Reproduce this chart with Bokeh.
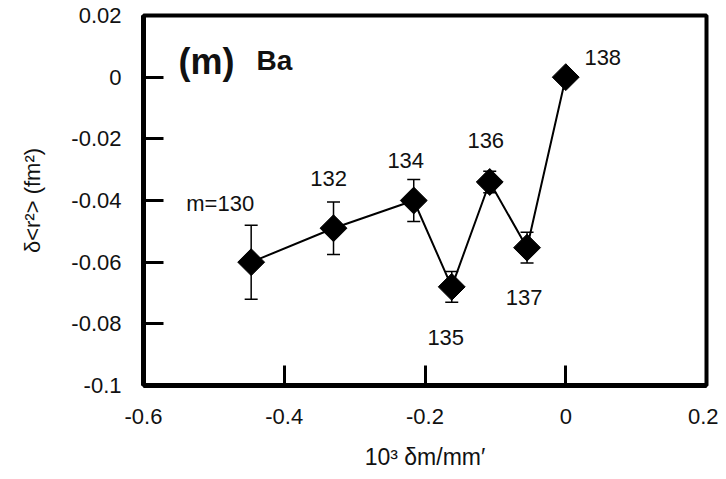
import math
from bokeh.plotting import figure
from bokeh.models import (ColumnDataSource, Whisker, TeeHead, FixedTicker,
                          CustomJSTickFormatter, Label)
from bokeh.core.properties import value
from bokeh.embed import file_html
from bokeh.resources import INLINE

# ---- data ----
mass_numbers = ["m=130", "132", "134", "135", "136", "137", "138"]
x_vals = [-0.447, -0.330, -0.216, -0.162, -0.108, -0.055, 0.0]
y_vals = [-0.0600, -0.0490, -0.0400, -0.0680, -0.0340, -0.0553, 0.0]
y_err = [0.0120, 0.0085, 0.0068, 0.0050, 0.0035, 0.0050, 0.0]
x_ticks = [-0.6, -0.4, -0.2, 0.0, 0.2]
y_ticks = [0.02, 0.0, -0.02, -0.04, -0.06, -0.08, -0.1]

# label offsets in screen pixels (style, not data)
label_dx = [-31, -5, -8, -6, -4, -3, 37]
label_dy = [-59, -50, -40, 51, -42, 50, -20]

FONT = "Liberation Sans"

src = ColumnDataSource(dict(
    x=x_vals, y=y_vals,
    lo=[y - e for y, e in zip(y_vals, y_err)],
    hi=[y + e for y, e in zip(y_vals, y_err)],
    lab=mass_numbers, dx=label_dx, dy=label_dy,
))

p = figure(width=718, height=479, output_backend="svg", toolbar_location=None,
           x_range=(-0.6, 0.2), y_range=(-0.1, 0.02),
           min_border_left=143, min_border_right=12,
           min_border_top=15, min_border_bottom=94)
p.background_fill_color = "white"
p.border_fill_color = "white"
p.grid.visible = False
p.outline_line_color = "black"
p.outline_line_width = 4

fmt = CustomJSTickFormatter(code="""
var s = tick.toFixed(2);
if (s.indexOf('.') >= 0) { s = s.replace(/0+$/, '').replace(/\\.$/, ''); }
if (s == '-0') { s = '0'; }
return s;
""")

for ax, ticks in ((p.xaxis[0], x_ticks), (p.yaxis[0], y_ticks)):
    ax.ticker = FixedTicker(ticks=ticks, num_minor_ticks=4)
    ax.formatter = fmt
    ax.axis_line_width = 5
    ax.axis_line_color = "black"
    ax.major_tick_in = 20
    ax.major_tick_out = 0
    ax.minor_tick_in = 12
    ax.minor_tick_out = 0
    ax.major_tick_line_width = 3
    ax.minor_tick_line_width = 2.5
    ax.major_label_text_font = FONT
    ax.major_label_text_font_size = "22px"
    ax.major_label_text_color = "#111111"
    ax.axis_label_text_font = FONT
    ax.axis_label_text_font_style = "normal"
    ax.axis_label_text_color = "#111111"

p.xaxis.major_label_standoff = 23
p.yaxis.major_label_standoff = 22
p.xaxis.axis_label = "10³ δm/mm′"
p.yaxis.axis_label = "δ<r²> (fm²)"
p.xaxis.axis_label_text_font_size = "23px"
p.yaxis.axis_label_text_font_size = "22px"
p.xaxis.axis_label_standoff = 17
p.yaxis.axis_label_standoff = 23

# error bars
p.add_layout(Whisker(source=src, base="x", lower="lo", upper="hi",
                     line_color="black", line_width=1.5,
                     upper_head=TeeHead(size=13, line_width=1.5, line_color="black"),
                     lower_head=TeeHead(size=13, line_width=1.5, line_color="black")))

# connecting line and diamonds
p.line("x", "y", source=src, line_color="black", line_width=2)
p.scatter("x", "y", source=src, marker="square", size=19, angle=math.pi / 4,
          fill_color="black", line_color="black")

# isotope labels
p.text("x", "y", text="lab", source=src, x_offset="dx", y_offset="dy",
       text_align="center", text_baseline="middle",
       text_font=value(FONT), text_font_size="22px", text_color="#111111")

# panel title
p.add_layout(Label(x=35, y=304, x_units="screen", y_units="screen", text="(m)",
                   text_font=FONT, text_font_style="bold", text_font_size="36px",
                   text_color="#111111"))
p.add_layout(Label(x=113, y=310, x_units="screen", y_units="screen", text="Ba",
                   text_font=FONT, text_font_style="bold", text_font_size="28px",
                   text_color="#111111"))

open("out.html", "w").write(file_html(p, INLINE))
